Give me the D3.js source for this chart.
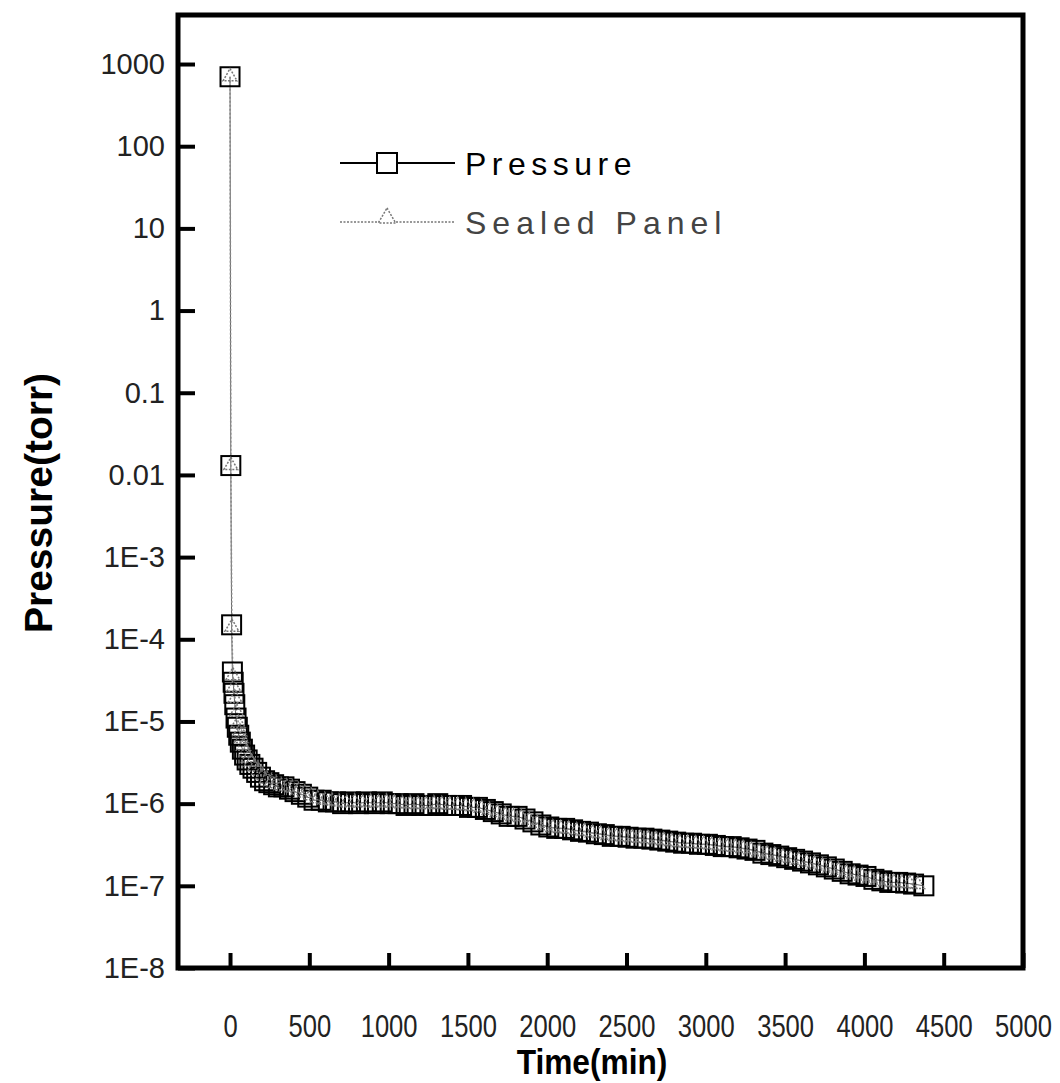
<!doctype html>
<html>
    <head>
        <script src="https://d3js.org/d3.v7.min.js"></script>
        <style>
            body,
            html {
                margin: 0;
                padding: 0;
                overflow: hidden;
                background: #fff;
            }
        </style>
    </head>
    <body>
        <script>
            // time (min) and pressure (torr)
            const pressureTime = [
                0, 5, 10, 15, 20, 25, 30, 38, 46, 55, 65, 78, 92, 108, 125,
                145, 168, 192, 218, 245, 275, 305, 340, 375, 410, 450, 490,
                530, 575, 620, 665, 710, 760, 810, 860, 910, 960, 1010, 1060,
                1110, 1160, 1210, 1260, 1310, 1360, 1410, 1460, 1510, 1560,
                1610, 1660, 1710, 1760, 1810, 1860, 1910, 1960, 2010, 2060,
                2110, 2160, 2210, 2260, 2310, 2360, 2410, 2460, 2510, 2560,
                2610, 2660, 2710, 2760, 2810, 2860, 2910, 2960, 3010, 3060,
                3110, 3160, 3210, 3260, 3310, 3360, 3410, 3460, 3510, 3560,
                3610, 3660, 3710, 3760, 3810, 3860, 3910, 3960, 4010, 4060,
                4110, 4160, 4210, 4260, 4310, 4375,
            ];
            const pressureValue = [
                700, 0.013, 1.5e-4, 4.0e-5, 3.0e-5, 2.2e-5, 1.6e-5, 1.1e-5,
                8.5e-6, 6.8e-6, 5.6e-6, 4.6e-6, 3.9e-6, 3.4e-6, 3.0e-6,
                2.7e-6, 2.4e-6, 2.1e-6, 1.9e-6, 1.8e-6, 1.7e-6, 1.6e-6,
                1.6e-6, 1.5e-6, 1.4e-6, 1.3e-6, 1.2e-6, 1.1e-6, 1.1e-6,
                1.05e-6, 1.05e-6, 1.0e-6, 1.05e-6, 1.0e-6, 1.05e-6, 1.0e-6,
                1.05e-6, 1.0e-6, 1.0e-6, 9.5e-7, 1.0e-6, 9.5e-7, 9.5e-7,
                1.0e-6, 9.5e-7, 9.5e-7, 9.5e-7, 9.0e-7, 9.0e-7, 8.5e-7,
                8.0e-7, 7.5e-7, 7.0e-7, 7.0e-7, 6.5e-7, 6.0e-7, 5.5e-7,
                5.2e-7, 5.0e-7, 5.0e-7, 4.8e-7, 4.6e-7, 4.5e-7, 4.3e-7,
                4.2e-7, 4.0e-7, 4.0e-7, 3.9e-7, 3.8e-7, 3.8e-7, 3.7e-7,
                3.6e-7, 3.5e-7, 3.4e-7, 3.3e-7, 3.3e-7, 3.2e-7, 3.2e-7,
                3.1e-7, 3.0e-7, 3.0e-7, 2.9e-7, 2.8e-7, 2.7e-7, 2.5e-7,
                2.4e-7, 2.3e-7, 2.2e-7, 2.1e-7, 2.0e-7, 1.9e-7, 1.8e-7,
                1.7e-7, 1.6e-7, 1.5e-7, 1.4e-7, 1.35e-7, 1.3e-7, 1.2e-7,
                1.15e-7, 1.1e-7, 1.1e-7, 1.08e-7, 1.05e-7, 1.0e-7,
            ];
            const sealedTime = [
                0, 5, 12, 18, 24, 32, 42, 52, 62, 72, 85, 100, 116, 135, 156,
                180, 205, 232, 260, 290, 322, 357, 392, 430, 470, 510, 552,
                597, 642, 687, 735, 785, 835, 885, 935, 985, 1035, 1085, 1135,
                1185, 1235, 1285, 1335, 1385, 1435, 1485, 1535, 1585, 1635,
                1685, 1735, 1785, 1835, 1885, 1935, 1985, 2035, 2085, 2135,
                2185, 2235, 2285, 2335, 2385, 2435, 2485, 2535, 2585, 2635,
                2685, 2735, 2785, 2835, 2885, 2935, 2985, 3035, 3085, 3135,
                3185, 3235, 3285, 3335, 3385, 3435, 3485, 3535, 3585, 3635,
                3685, 3735, 3785, 3835, 3885, 3935, 3985, 4035, 4085, 4135,
                4185, 4235, 4285, 4335,
            ];
            const sealedValue = [
                700, 0.013, 1.4e-4, 3.6e-5, 2.6e-5, 1.9e-5, 1.3e-5, 9.5e-6,
                7.5e-6, 6.2e-6, 5.0e-6, 4.2e-6, 3.6e-6, 3.2e-6, 2.8e-6,
                2.5e-6, 2.2e-6, 2.0e-6, 1.85e-6, 1.75e-6, 1.65e-6, 1.6e-6,
                1.55e-6, 1.45e-6, 1.35e-6, 1.25e-6, 1.15e-6, 1.1e-6, 1.08e-6,
                1.05e-6, 1.02e-6, 1.05e-6, 1.02e-6, 1.05e-6, 1.02e-6, 1.05e-6,
                1.02e-6, 1.0e-6, 1.0e-6, 9.8e-7, 9.8e-7, 1.0e-6, 9.8e-7,
                9.6e-7, 9.6e-7, 9.4e-7, 9.2e-7, 8.8e-7, 8.3e-7, 7.8e-7,
                7.3e-7, 7.0e-7, 6.8e-7, 6.3e-7, 5.8e-7, 5.4e-7, 5.1e-7,
                5.0e-7, 4.9e-7, 4.7e-7, 4.6e-7, 4.4e-7, 4.3e-7, 4.1e-7,
                4.0e-7, 3.95e-7, 3.85e-7, 3.8e-7, 3.75e-7, 3.65e-7, 3.55e-7,
                3.45e-7, 3.35e-7, 3.3e-7, 3.25e-7, 3.2e-7, 3.15e-7, 3.05e-7,
                3.0e-7, 2.95e-7, 2.85e-7, 2.75e-7, 2.6e-7, 2.45e-7, 2.35e-7,
                2.25e-7, 2.15e-7, 2.05e-7, 1.95e-7, 1.85e-7, 1.75e-7, 1.65e-7,
                1.55e-7, 1.45e-7, 1.4e-7, 1.32e-7, 1.25e-7, 1.18e-7, 1.12e-7,
                1.1e-7, 1.08e-7, 1.06e-7, 1.04e-7,
            ];
            const xTicks = [0, 500, 1000, 1500, 2000, 2500, 3000, 3500, 4000, 4500, 5000];
            const yTicks = [1e3, 1e2, 10, 1, 0.1, 0.01, 1e-3, 1e-4, 1e-5, 1e-6, 1e-7, 1e-8];
            const yTickLabels = ["1000", "100", "10", "1", "0.1", "0.01", "1E-3", "1E-4", "1E-5", "1E-6", "1E-7", "1E-8"];

            const width = 1060;
            const height = 1083;
            const plotLeft = 178, plotRight = 1023, plotTop = 15, plotBottom = 968;

            const svg = d3
                .create("svg")
                .attr("width", width)
                .attr("height", height)
                .attr("viewBox", [0, 0, width, height])
                .style("font-family", "'Liberation Sans', Arial, sans-serif");

            const x = d3.scaleLinear().domain([-328, 5000]).range([plotLeft, plotRight]);
            const y = d3.scaleLog().domain([1e-8, 3950]).range([plotBottom, plotTop]);

            const pressure = pressureTime.map((t, i) => ({ t, v: pressureValue[i] }));
            const sealed = sealedTime.map((t, i) => ({ t, v: sealedValue[i] }));

            const line = d3
                .line()
                .x((d) => x(d.t))
                .y((d) => y(d.v));

            // connecting lines
            svg.append("path")
                .datum(pressure)
                .attr("fill", "none")
                .attr("stroke", "#666")
                .attr("stroke-width", 1)
                .attr("d", line);
            svg.append("path")
                .datum(sealed)
                .attr("fill", "none")
                .attr("stroke", "#888")
                .attr("stroke-width", 1.5)
                .attr("stroke-dasharray", "2,2")
                .attr("d", line);

            // squares
            const sq = 19;
            svg.append("g")
                .selectAll("rect")
                .data(pressure)
                .join("rect")
                .attr("x", (d) => x(d.t) - sq / 2)
                .attr("y", (d) => y(d.v) - sq / 2)
                .attr("width", sq)
                .attr("height", sq)
                .attr("fill", "none")
                .attr("stroke", "#000")
                .attr("stroke-width", 2);

            // triangles
            const tri = d3.symbol().type(d3.symbolTriangle).size(85);
            svg.append("g")
                .selectAll("path")
                .data(sealed)
                .join("path")
                .attr("transform", (d) => `translate(${x(d.t)},${y(d.v)})`)
                .attr("d", tri)
                .attr("fill", "none")
                .attr("stroke", "#777")
                .attr("stroke-width", 1.5)
                .attr("stroke-dasharray", "2,1.5");

            // axes
            const xAxis = svg
                .append("g")
                .attr("transform", `translate(0,${plotBottom})`)
                .call(
                    d3.axisBottom(x)
                        .tickValues(xTicks)
                        .tickSize(-15)
                        .tickPadding(46)
                        .tickFormat(d3.format("d"))
                );
            xAxis.select(".domain").remove();
            xAxis.selectAll("line").attr("stroke", "#000").attr("stroke-width", 4);
            xAxis.selectAll("text")
                .style("font-size", "32px")
                .attr("transform", "scale(0.8,1)")
                .attr("fill", "#222");

            const yAxis = svg
                .append("g")
                .attr("transform", `translate(${plotLeft},0)`)
                .call(
                    d3.axisLeft(y)
                        .tickValues(yTicks)
                        .tickSize(-17)
                        .tickPadding(13)
                        .tickFormat((d, i) => yTickLabels[i])
                );
            yAxis.select(".domain").remove();
            yAxis.selectAll("line").attr("stroke", "#000").attr("stroke-width", 4);
            yAxis.selectAll("text")
                .style("font-size", "29px")
                .attr("fill", "#222");

            // frame
            svg.append("rect")
                .attr("x", plotLeft)
                .attr("y", plotTop)
                .attr("width", plotRight - plotLeft)
                .attr("height", plotBottom - plotTop)
                .attr("fill", "none")
                .attr("stroke", "#000")
                .attr("stroke-width", 5);

            // axis titles
            svg.append("text")
                .attr("transform", `translate(52,503) rotate(-90)`)
                .attr("text-anchor", "middle")
                .style("font-size", "39px")
                .style("font-weight", "bold")
                .text("Pressure(torr)");

            svg.append("text")
                .attr("transform", "translate(592,1074) scale(0.88,1)")
                .attr("text-anchor", "middle")
                .style("font-size", "36px")
                .style("font-weight", "bold")
                .text("Time(min)");

            // legend
            const legend = svg.append("g");
            legend.append("line")
                .attr("x1", 340).attr("x2", 455)
                .attr("y1", 163).attr("y2", 163)
                .attr("stroke", "#000").attr("stroke-width", 2);
            legend.append("rect")
                .attr("x", 377).attr("y", 153)
                .attr("width", 20).attr("height", 20)
                .attr("fill", "#fff").attr("stroke", "#000").attr("stroke-width", 2);
            legend.append("text")
                .attr("x", 465).attr("y", 175)
                .style("font-size", "32px")
                .style("letter-spacing", "5.5px")
                .attr("fill", "#000")
                .text("Pressure");

            legend.append("line")
                .attr("x1", 340).attr("x2", 455)
                .attr("y1", 222).attr("y2", 222)
                .attr("stroke", "#777").attr("stroke-width", 1.5)
                .attr("stroke-dasharray", "2,1.5");
            legend.append("path")
                .attr("transform", "translate(387,218)")
                .attr("d", d3.symbol().type(d3.symbolTriangle).size(130))
                .attr("fill", "#fff")
                .attr("stroke", "#777")
                .attr("stroke-width", 1.5)
                .attr("stroke-dasharray", "2,1.5");
            legend.append("text")
                .attr("x", 465).attr("y", 234)
                .style("font-size", "32px")
                .style("letter-spacing", "6px")
                .attr("fill", "#444")
                .text("Sealed Panel");

            document.body.appendChild(svg.node());
        </script>
    </body>
</html>
